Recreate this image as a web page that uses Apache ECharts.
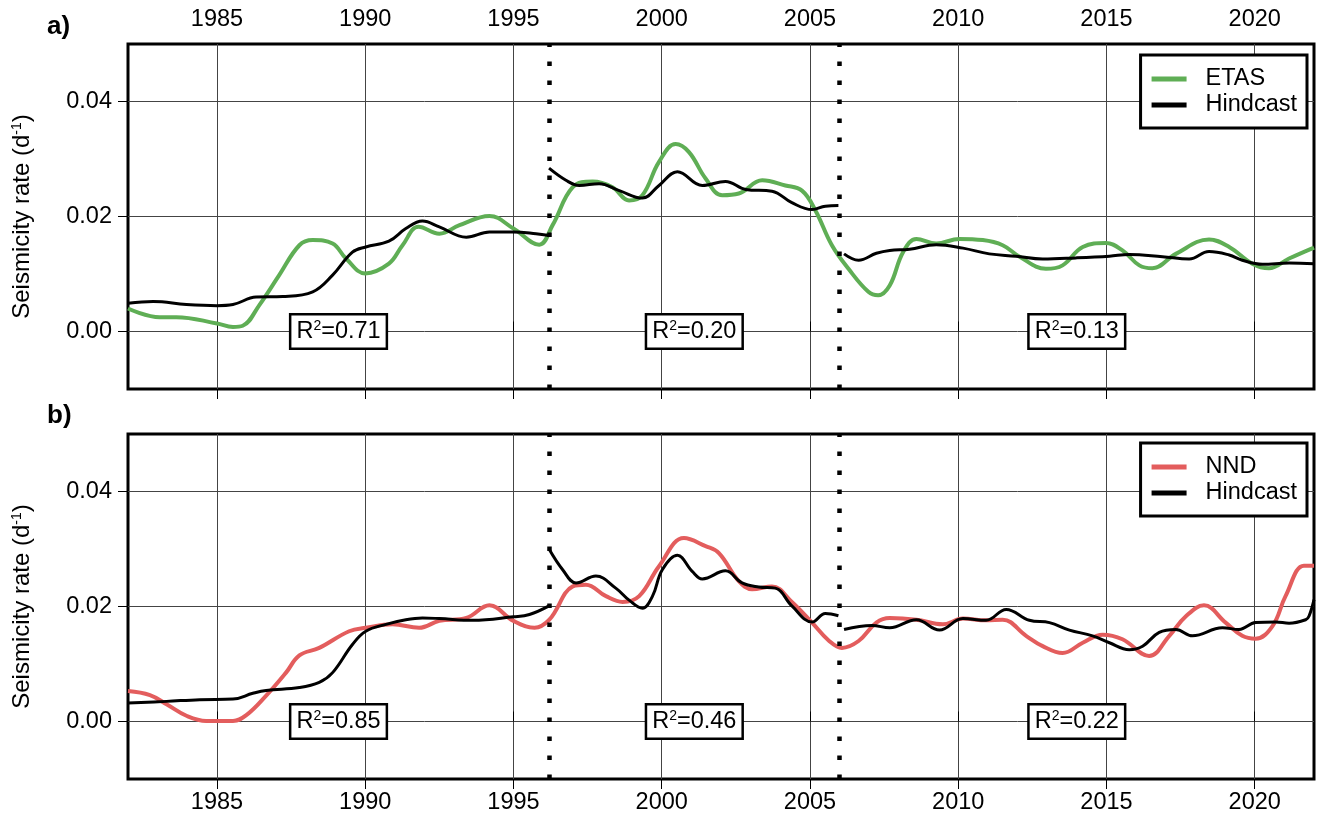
<!DOCTYPE html>
<html>
<head>
<meta charset="utf-8">
<script src="https://cdn.jsdelivr.net/npm/echarts@6/dist/echarts.min.js"></script>
<style>
  html, body { margin: 0; padding: 0; background: #fff; }
  #main { width: 1318px; height: 820px; }
</style>
</head>
<body>
<div id="main"></div>
<script>
// tick labels
var xTicks = [1985, 1990, 1995, 2000, 2005, 2010, 2015, 2020];
var yTicks = [0, 0.02, 0.04];
// period boundaries (dotted lines)
var breakYears = [1996.2, 2006.0];
// R^2 per period, label positions
var r2Years = [1989.1, 2001.1, 2014.0];
var r2Etas = ['0.71', '0.20', '0.13'];
var r2Nnd = ['0.85', '0.46', '0.22'];

// panel a: ETAS vs hindcast  [year, rate]
var etas = [[1982.0,0.0040],[1983.07,0.0025],[1983.63,0.0025],[1985.0,0.0014],[1985.54,0.0008],[1985.87,0.0010],[1986.43,0.0046],[1987.1,0.0098],[1987.78,0.0150],[1988.23,0.0159],[1988.9,0.0153],[1989.35,0.0127],[1990.0,0.0101],[1990.8,0.0118],[1991.26,0.0150],[1991.8,0.0182],[1992.5,0.0170],[1993.18,0.0185],[1994.19,0.0201],[1995.0,0.0179],[1995.87,0.0151],[1996.32,0.0185],[1997.0,0.0251],[1997.67,0.0261],[1998.34,0.0251],[1998.9,0.0228],[1999.35,0.0237],[1999.91,0.0295],[2000.47,0.0326],[2000.92,0.0312],[2001.48,0.0266],[2002.04,0.0237],[2002.6,0.0240],[2003.39,0.0263],[2004.17,0.0254],[2004.73,0.0245],[2005.18,0.0211],[2005.74,0.0150],[2006.3,0.0109],[2006.97,0.0069],[2007.3,0.0063],[2007.69,0.0080],[2008.14,0.0138],[2008.59,0.0161],[2009.26,0.0153],[2010.04,0.0161],[2010.83,0.0159],[2011.5,0.0150],[2012.07,0.0130],[2012.96,0.0109],[2013.52,0.0115],[2014.2,0.0147],[2014.98,0.0154],[2015.54,0.0141],[2016.11,0.0115],[2016.55,0.0110],[2017.34,0.0135],[2018.46,0.0160],[2019.14,0.0147],[2019.92,0.0118],[2020.48,0.0110],[2021.16,0.0127],[2022.0,0.0146]];
var hindA1 = [[1982.0,0.0049],[1982.85,0.0052],[1983.97,0.0047],[1985.0,0.0045],[1985.54,0.0047],[1986.32,0.0060],[1987.22,0.0061],[1988.23,0.0069],[1988.9,0.0098],[1989.57,0.0138],[1990.02,0.0147],[1990.8,0.0157],[1991.37,0.0179],[1991.93,0.0192],[1992.5,0.0182],[1993.41,0.0164],[1994.19,0.0173],[1995.0,0.0173],[1995.76,0.0170],[1996.2,0.0167]];
var hindA2 = [[1996.2,0.0284],[1996.77,0.0263],[1997.22,0.0254],[1997.89,0.0257],[1998.57,0.0245],[1999.35,0.0232],[1999.91,0.0254],[2000.53,0.0278],[2001.37,0.0254],[2002.15,0.0261],[2002.83,0.0247],[2003.72,0.0244],[2004.39,0.0224],[2005.07,0.0212],[2005.52,0.0218],[2005.96,0.0219]];
var hindA3 = [[2006.15,0.0135],[2006.64,0.0124],[2007.24,0.0136],[2007.69,0.0141],[2008.36,0.0143],[2009.26,0.0151],[2010.16,0.0145],[2011.05,0.0135],[2011.95,0.0131],[2012.85,0.0126],[2013.97,0.0128],[2015.1,0.0131],[2015.77,0.0134],[2016.89,0.0130],[2017.79,0.0126],[2018.46,0.0139],[2019.14,0.0133],[2019.58,0.0124],[2020.26,0.0117],[2021.16,0.0119],[2022.0,0.0118]];

// panel b: NND vs hindcast
var nnd = [[1982.0,0.0053],[1982.74,0.0046],[1983.3,0.0030],[1983.97,0.0010],[1984.64,0.0001],[1985.54,0.0001],[1985.99,0.0011],[1986.66,0.0045],[1987.33,0.0085],[1987.78,0.0115],[1988.45,0.0128],[1989.46,0.0157],[1990.02,0.0163],[1990.92,0.0169],[1991.82,0.0163],[1992.5,0.0175],[1993.41,0.0180],[1994.19,0.0202],[1995.0,0.0175],[1995.71,0.0163],[1996.21,0.0177],[1997.0,0.0235],[1997.44,0.0238],[1998.12,0.0218],[1998.68,0.0208],[1999.24,0.0218],[1999.91,0.0270],[2000.75,0.0319],[2001.48,0.0305],[2001.93,0.0293],[2002.6,0.0244],[2003.05,0.0230],[2003.72,0.0235],[2004.39,0.0208],[2005.07,0.0172],[2005.63,0.0141],[2006.08,0.0128],[2006.64,0.0140],[2007.24,0.0172],[2007.69,0.0180],[2008.59,0.0177],[2009.48,0.0169],[2010.16,0.0179],[2010.94,0.0176],[2011.5,0.0177],[2012.29,0.0149],[2012.85,0.0131],[2013.52,0.0119],[2014.2,0.0137],[2014.87,0.0151],[2015.54,0.0143],[2016.44,0.0114],[2017.12,0.0149],[2017.68,0.0183],[2018.29,0.0202],[2019.02,0.0172],[2019.58,0.0149],[2020.03,0.0144],[2020.6,0.0166],[2021.04,0.0218],[2021.66,0.0271],[2022.0,0.0271]];
var hindB1 = [[1982.0,0.0032],[1983.3,0.0035],[1984.42,0.0038],[1985.54,0.0039],[1986.21,0.0049],[1986.66,0.0054],[1987.78,0.0059],[1988.45,0.0068],[1988.9,0.0085],[1989.57,0.0134],[1990.02,0.0157],[1990.7,0.0169],[1991.37,0.0177],[1991.93,0.0180],[1992.5,0.0179],[1993.63,0.0176],[1995.0,0.0182],[1995.54,0.0186],[1996.2,0.0201]];
var hindB2 = [[1996.2,0.0300],[1996.66,0.0264],[1997.11,0.0241],[1997.78,0.0253],[1998.45,0.0232],[1998.9,0.0211],[1999.35,0.0197],[1999.69,0.0218],[2000.02,0.0264],[2000.53,0.0289],[2001.03,0.0261],[2001.37,0.0248],[2002.15,0.0262],[2002.71,0.0241],[2003.27,0.0234],[2003.83,0.0232],[2004.39,0.0201],[2005.07,0.0173],[2005.52,0.0188],[2005.96,0.0184]];
var hindB3 = [[2006.15,0.0160],[2007.09,0.0167],[2007.69,0.0163],[2008.59,0.0177],[2009.37,0.0159],[2010.16,0.0179],[2010.94,0.0176],[2011.62,0.0195],[2012.4,0.0176],[2013.08,0.0172],[2013.75,0.0159],[2014.53,0.0149],[2015.1,0.0137],[2015.77,0.0125],[2016.22,0.0131],[2016.78,0.0155],[2017.34,0.0160],[2017.9,0.0149],[2018.91,0.0163],[2019.47,0.0160],[2020.03,0.0172],[2020.71,0.0173],[2021.16,0.0171],[2021.72,0.0177],[2021.83,0.0183],[2022.0,0.0212]];

var FONT = 'Liberation Sans, Helvetica, Arial, sans-serif';
var FS = 23.5;
var GREEN = '#5fae55';
var RED = '#e35d5d';

var myChart = echarts.init(document.getElementById('main'));

function xAxisDef(grid, pos, labels, grids) {
    return {
        type: 'value', gridIndex: grid, position: pos,
        min: 1982, max: 2022,
        axisLine: { show: false },
        axisTick: { show: true, inside: false, length: 10, customValues: xTicks,
            lineStyle: { color: '#000', width: 1 } },
        axisLabel: { show: labels, customValues: xTicks, margin: 12,
            fontSize: FS, fontFamily: FONT, color: '#000',
            formatter: function (v) { return String(v); } },
        splitLine: { show: grids, lineStyle: { color: '#444', width: 1 } }
    };
}

function yAxisDef(grid) {
    return {
        type: 'value', gridIndex: grid, position: 'left',
        min: -0.01, max: 0.05,
        name: '{n|Seismicity rate (d}{s|-1}{n|)}',
        nameLocation: 'middle', nameGap: 94, nameRotate: 90,
        nameTextStyle: {
            rich: {
                n: { fontSize: 24, fontFamily: FONT, color: '#000', lineHeight: 24 },
                s: { fontSize: 14, fontFamily: FONT, color: '#000', lineHeight: 14, verticalAlign: 'top' }
            }
        },
        axisLine: { show: false },
        axisTick: { show: true, inside: false, length: 10, customValues: yTicks,
            lineStyle: { color: '#000', width: 1 } },
        axisLabel: { customValues: yTicks, margin: 16, fontSize: FS, fontFamily: FONT, color: '#000',
            formatter: function (v) { return v.toFixed(2); } },
        splitLine: { show: true, lineStyle: { color: '#444', width: 1 } }
    };
}

function lineSeries(name, data, xi, yi, color, width, z) {
    return {
        name: name, type: 'line', data: data,
        xAxisIndex: xi, yAxisIndex: yi,
        smooth: 0.4, showSymbol: false, symbol: 'none',
        color: color,
        lineStyle: { color: color, width: width },
        z: z, silent: true
    };
}

function breakLines(s) {
    s.markLine = {
        silent: true, symbol: 'none', label: { show: false },
        lineStyle: { color: '#000', width: 4.5, type: [4.5, 14.5], cap: 'butt' },
        data: breakYears.map(function (y) { return { xAxis: y }; })
    };
    return s;
}

function r2Series(values, xi, yi) {
    return {
        type: 'scatter', xAxisIndex: xi, yAxisIndex: yi,
        data: r2Years.map(function (y) { return [y, 0]; }),
        symbolSize: 0, itemStyle: { color: '#000', opacity: 1 }, z: 10, silent: true,
        label: {
            show: true, position: 'inside', color: '#000', opacity: 1,
            textBorderWidth: 0, textShadowBlur: 0,
            formatter: function (p) { return '{n|R}{s|2}{n|=' + values[p.dataIndex] + '}'; },
            backgroundColor: '#fff', borderColor: '#000', borderWidth: 2.5,
            padding: [4, 5, 3, 5],
            rich: {
                n: { fontSize: FS, fontFamily: FONT, color: '#000', lineHeight: 25, textBorderWidth: 0 },
                s: { fontSize: 14, fontFamily: FONT, color: '#000', lineHeight: 14, verticalAlign: 'top', textBorderWidth: 0 }
            }
        }
    };
}

function legendDef(top, first) {
    return {
        orient: 'vertical', right: 11, top: top,
        data: [first, 'Hindcast'],
        icon: 'rect', itemWidth: 35, itemHeight: 5, itemGap: 2,
        borderColor: '#000', borderWidth: 3, backgroundColor: '#fff',
        padding: [12, 10, 11, 11],
        selectedMode: false,
        textStyle: { fontSize: FS, fontFamily: FONT, color: '#000', lineHeight: 24, padding: [0, 0, 0, 14] }
    };
}

var option = {
    animation: false,
    backgroundColor: '#fff',
    grid: [
        { left: 128, top: 44, width: 1186, height: 345, show: true, borderColor: '#000', borderWidth: 3, backgroundColor: 'transparent' },
        { left: 128, top: 434, width: 1186, height: 345, show: true, borderColor: '#000', borderWidth: 3, backgroundColor: 'transparent' }
    ],
    xAxis: [
        xAxisDef(0, 'top', true, true),
        xAxisDef(0, 'bottom', false, false),
        xAxisDef(1, 'top', false, false),
        xAxisDef(1, 'bottom', true, true)
    ],
    yAxis: [yAxisDef(0), yAxisDef(1)],
    legend: [legendDef(55, 'ETAS'), legendDef(443, 'NND')],
    graphic: [
        { type: 'text', left: 47, top: 14, style: { text: 'a)', font: 'bold 26px ' + FONT, fill: '#000' } },
        { type: 'text', left: 47, top: 403, style: { text: 'b)', font: 'bold 26px ' + FONT, fill: '#000' } }
    ],
    series: [
        lineSeries('ETAS', etas, 0, 0, GREEN, 4, 3),
        breakLines(lineSeries('Hindcast', hindA1, 0, 0, '#000', 3, 4)),
        lineSeries('Hindcast', hindA2, 0, 0, '#000', 3, 4),
        lineSeries('Hindcast', hindA3, 0, 0, '#000', 3, 4),
        r2Series(r2Etas, 0, 0),
        lineSeries('NND', nnd, 3, 1, RED, 4, 3),
        breakLines(lineSeries('Hindcast', hindB1, 3, 1, '#000', 3, 4)),
        lineSeries('Hindcast', hindB2, 3, 1, '#000', 3, 4),
        lineSeries('Hindcast', hindB3, 3, 1, '#000', 3, 4),
        r2Series(r2Nnd, 3, 1)
    ]
};

myChart.setOption(option);
</script>
</body>
</html>
